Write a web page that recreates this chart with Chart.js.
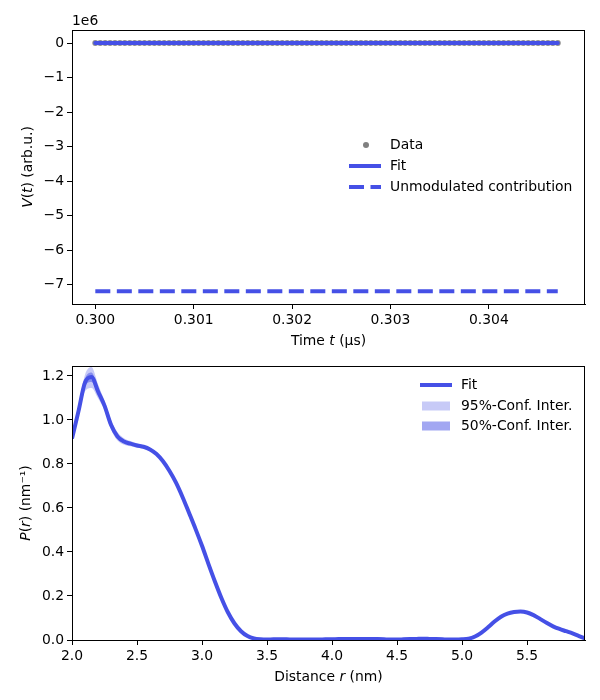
<!DOCTYPE html>
<html>
<head>
<meta charset="utf-8">
<script src="https://cdn.jsdelivr.net/npm/chart.js@4.4.1/dist/chart.umd.min.js"></script>
<style>
  body { margin: 0; background: #fff; }
  canvas { display: block; }
</style>
</head>
<body>
<canvas id="topChart" width="600" height="350"></canvas>
<canvas id="bottomChart" width="600" height="350"></canvas>
<script>
// ---- top panel: time domain ----
const timeValues = [
    0.30000, 0.30005, 0.30010, 0.30015, 0.30020, 0.30025, 0.30030, 0.30035, 0.30040, 0.30045,
    0.30050, 0.30055, 0.30060, 0.30065, 0.30070, 0.30075, 0.30080, 0.30085, 0.30090, 0.30095,
    0.30100, 0.30105, 0.30110, 0.30115, 0.30120, 0.30125, 0.30130, 0.30135, 0.30140, 0.30145,
    0.30150, 0.30155, 0.30160, 0.30165, 0.30170, 0.30175, 0.30180, 0.30185, 0.30190, 0.30195,
    0.30200, 0.30205, 0.30210, 0.30215, 0.30220, 0.30225, 0.30230, 0.30235, 0.30240, 0.30245,
    0.30250, 0.30255, 0.30260, 0.30265, 0.30270, 0.30275, 0.30280, 0.30285, 0.30290, 0.30295,
    0.30300, 0.30305, 0.30310, 0.30315, 0.30320, 0.30325, 0.30330, 0.30335, 0.30340, 0.30345,
    0.30350, 0.30355, 0.30360, 0.30365, 0.30370, 0.30375, 0.30380, 0.30385, 0.30390, 0.30395,
    0.30400, 0.30405, 0.30410, 0.30415, 0.30420, 0.30425, 0.30430, 0.30435, 0.30440, 0.30445,
    0.30450, 0.30455, 0.30460, 0.30465, 0.30470
];
const signalData = [
    0, 0, 0, 0, 0, 0, 0, 0, 0, 0,
    0, 0, 0, 0, 0, 0, 0, 0, 0, 0,
    0, 0, 0, 0, 0, 0, 0, 0, 0, 0,
    0, 0, 0, 0, 0, 0, 0, 0, 0, 0,
    0, 0, 0, 0, 0, 0, 0, 0, 0, 0,
    0, 0, 0, 0, 0, 0, 0, 0, 0, 0,
    0, 0, 0, 0, 0, 0, 0, 0, 0, 0,
    0, 0, 0, 0, 0, 0, 0, 0, 0, 0,
    0, 0, 0, 0, 0, 0, 0, 0, 0, 0,
    0, 0, 0, 0, 0
];
const signalFit = [
    0, 0, 0, 0, 0, 0, 0, 0, 0, 0,
    0, 0, 0, 0, 0, 0, 0, 0, 0, 0,
    0, 0, 0, 0, 0, 0, 0, 0, 0, 0,
    0, 0, 0, 0, 0, 0, 0, 0, 0, 0,
    0, 0, 0, 0, 0, 0, 0, 0, 0, 0,
    0, 0, 0, 0, 0, 0, 0, 0, 0, 0,
    0, 0, 0, 0, 0, 0, 0, 0, 0, 0,
    0, 0, 0, 0, 0, 0, 0, 0, 0, 0,
    0, 0, 0, 0, 0, 0, 0, 0, 0, 0,
    0, 0, 0, 0, 0
];
const unmodTime = [0.30000, 0.30470];
const unmodValues = [-7190000, -7190000];
const timeTicks = [0.300, 0.301, 0.302, 0.303, 0.304];
const signalTicks = [0, -1e6, -2e6, -3e6, -4e6, -5e6, -6e6, -7e6];

// ---- bottom panel: distance distribution ----
const distance = [
    2.00, 2.05, 2.10, 2.15, 2.20, 2.25, 2.30, 2.35, 2.40, 2.45,
    2.50, 2.55, 2.60, 2.65, 2.70, 2.75, 2.80, 2.85, 2.90, 2.95,
    3.00, 3.05, 3.10, 3.15, 3.20, 3.25, 3.30, 3.35, 3.40, 3.45,
    3.50, 3.55, 3.60, 3.65, 3.70, 3.75, 3.80, 3.85, 3.90, 3.95,
    4.00, 4.05, 4.10, 4.15, 4.20, 4.25, 4.30, 4.35, 4.40, 4.45,
    4.50, 4.55, 4.60, 4.65, 4.70, 4.75, 4.80, 4.85, 4.90, 4.95,
    5.00, 5.05, 5.10, 5.15, 5.20, 5.25, 5.30, 5.35, 5.40, 5.45,
    5.50, 5.55, 5.60, 5.65, 5.70, 5.75, 5.80, 5.85, 5.90, 5.95
];
const pFit = [
    0.915, 1.040, 1.170, 1.195, 1.130, 1.065, 0.978, 0.925, 0.902, 0.892,
    0.884, 0.878, 0.866, 0.845, 0.812, 0.768, 0.715, 0.650, 0.578, 0.505,
    0.428, 0.345, 0.265, 0.190, 0.125, 0.075, 0.040, 0.018, 0.007, 0.003,
    0.002, 0.003, 0.003, 0.003, 0.002, 0.002, 0.002, 0.002, 0.002, 0.003,
    0.003, 0.004, 0.004, 0.005, 0.005, 0.005, 0.005, 0.004, 0.003, 0.002,
    0.002, 0.003, 0.004, 0.005, 0.006, 0.005, 0.004, 0.003, 0.002, 0.002,
    0.003, 0.006, 0.016, 0.034, 0.058, 0.084, 0.106, 0.120, 0.127, 0.129,
    0.125, 0.113, 0.096, 0.078, 0.062, 0.050, 0.040, 0.030, 0.018, 0.006
];
const upper95 = [
    0.925, 1.062, 1.205, 1.240, 1.162, 1.087, 1.000, 0.944, 0.917, 0.904,
    0.894, 0.886, 0.873, 0.851, 0.818, 0.774, 0.721, 0.656, 0.584, 0.511,
    0.434, 0.351, 0.271, 0.196, 0.131, 0.081, 0.046, 0.024, 0.013, 0.009,
    0.008, 0.009, 0.009, 0.009, 0.008, 0.008, 0.008, 0.008, 0.008, 0.009,
    0.009, 0.010, 0.010, 0.011, 0.011, 0.011, 0.011, 0.010, 0.009, 0.008,
    0.008, 0.009, 0.010, 0.011, 0.012, 0.011, 0.010, 0.009, 0.008, 0.008,
    0.009, 0.012, 0.022, 0.040, 0.064, 0.090, 0.112, 0.126, 0.133, 0.135,
    0.131, 0.119, 0.102, 0.084, 0.068, 0.056, 0.046, 0.036, 0.024, 0.012
];
const lower95 = [
    0.905, 1.020, 1.130, 1.145, 1.098, 1.043, 0.956, 0.906, 0.887, 0.880,
    0.874, 0.870, 0.859, 0.839, 0.806, 0.762, 0.709, 0.644, 0.572, 0.499,
    0.422, 0.339, 0.259, 0.184, 0.119, 0.069, 0.034, 0.012, 0.001, 0.000,
    0.000, 0.000, 0.000, 0.000, 0.000, 0.000, 0.000, 0.000, 0.000, 0.000,
    0.000, 0.000, 0.000, 0.000, 0.000, 0.000, 0.000, 0.000, 0.000, 0.000,
    0.000, 0.000, 0.000, 0.000, 0.000, 0.000, 0.000, 0.000, 0.000, 0.000,
    0.000, 0.000, 0.010, 0.028, 0.052, 0.078, 0.100, 0.114, 0.121, 0.123,
    0.119, 0.107, 0.090, 0.072, 0.056, 0.044, 0.034, 0.024, 0.012, 0.000
];
const upper50 = [
    0.919, 1.050, 1.186, 1.215, 1.145, 1.075, 0.988, 0.933, 0.908, 0.897,
    0.888, 0.881, 0.869, 0.848, 0.815, 0.771, 0.718, 0.653, 0.581, 0.508,
    0.431, 0.348, 0.268, 0.193, 0.128, 0.078, 0.043, 0.021, 0.010, 0.006,
    0.005, 0.006, 0.006, 0.006, 0.005, 0.005, 0.005, 0.005, 0.005, 0.006,
    0.006, 0.007, 0.007, 0.008, 0.008, 0.008, 0.008, 0.007, 0.006, 0.005,
    0.005, 0.006, 0.007, 0.008, 0.009, 0.008, 0.007, 0.006, 0.005, 0.005,
    0.006, 0.009, 0.019, 0.037, 0.061, 0.087, 0.109, 0.123, 0.130, 0.132,
    0.128, 0.116, 0.099, 0.081, 0.065, 0.053, 0.043, 0.033, 0.021, 0.009
];
const lower50 = [
    0.911, 1.030, 1.152, 1.172, 1.115, 1.055, 0.968, 0.917, 0.896, 0.887,
    0.880, 0.875, 0.863, 0.842, 0.809, 0.765, 0.712, 0.647, 0.575, 0.502,
    0.425, 0.342, 0.262, 0.187, 0.122, 0.072, 0.037, 0.015, 0.004, 0.000,
    0.000, 0.000, 0.000, 0.000, 0.000, 0.000, 0.000, 0.000, 0.000, 0.000,
    0.000, 0.001, 0.001, 0.002, 0.002, 0.002, 0.002, 0.001, 0.000, 0.000,
    0.000, 0.000, 0.001, 0.002, 0.003, 0.002, 0.001, 0.000, 0.000, 0.000,
    0.000, 0.003, 0.013, 0.031, 0.055, 0.081, 0.103, 0.117, 0.124, 0.126,
    0.122, 0.110, 0.093, 0.075, 0.059, 0.047, 0.037, 0.027, 0.015, 0.003
];
const distanceTicks = [2.0, 2.5, 3.0, 3.5, 4.0, 4.5, 5.0, 5.5];
const pTicks = [0.0, 0.2, 0.4, 0.6, 0.8, 1.0, 1.2];

const BLUE = '#4550e6';
const FONT = 'DejaVu Sans';
const FSIZE = 13.9;

Chart.defaults.font.family = FONT;
Chart.defaults.font.size = FSIZE;
Chart.defaults.color = '#000';

function pts(xs, ys) {
    return xs.map((x, i) => ({x: x, y: ys[i]}));
}

// text made of normal and italic pieces, centred on (x, y)
function drawRich(ctx, parts, x, y, angle) {
    ctx.save();
    ctx.translate(x, y);
    ctx.rotate(angle);
    ctx.fillStyle = '#000';
    ctx.textBaseline = 'middle';
    ctx.textAlign = 'left';
    let total = 0;
    const widths = parts.map(p => {
        ctx.font = (p[1] ? 'italic ' : '') + FSIZE + 'px "' + FONT + '"';
        const w = ctx.measureText(p[0]).width;
        total += w;
        return w;
    });
    let cx = -total / 2;
    parts.forEach((p, i) => {
        ctx.font = (p[1] ? 'italic ' : '') + FSIZE + 'px "' + FONT + '"';
        ctx.fillText(p[0], cx, 0);
        cx += widths[i];
    });
    ctx.restore();
}

function fixedTicks(values) {
    return function(scale) {
        scale.ticks = values.map(v => ({value: v}));
    };
}

function axisOpts(min, max, ticks, label, size, isX) {
    return {
        type: 'linear',
        min: min,
        max: max,
        afterBuildTicks: fixedTicks(ticks),
        afterFit: function(scale) {
            if (isX) scale.height = size; else scale.width = size;
        },
        grid: {drawOnChartArea: false, drawTicks: true, tickLength: 5, color: '#000'},
        border: {display: true, color: '#000', width: 1},
        ticks: {autoSkip: false, maxRotation: 0, padding: 3, color: '#000', callback: label}
    };
}

// frame, axis titles and legend for one panel
function decorPlugin(cfg) {
    return {
        id: 'decor',
        afterDraw(chart) {
            const ctx = chart.ctx;
            const a = chart.chartArea;
            ctx.save();
            ctx.strokeStyle = '#000';
            ctx.lineWidth = 1;
            ctx.strokeRect(a.left + 0.5, a.top + 0.5, a.right - a.left - 1, a.bottom - a.top);
            ctx.restore();

            drawRich(ctx, cfg.xTitle, (a.left + a.right) / 2, cfg.xTitleY, 0);
            drawRich(ctx, cfg.yTitle, cfg.yTitleX, (a.top + a.bottom) / 2, -Math.PI / 2);

            ctx.save();
            ctx.font = FSIZE + 'px "' + FONT + '"';
            ctx.textBaseline = 'middle';
            ctx.fillStyle = '#000';
            cfg.legend.forEach(item => {
                ctx.save();
                if (item.kind === 'dot') {
                    ctx.fillStyle = item.color;
                    ctx.beginPath();
                    ctx.arc(item.x0 + 17, item.y, 3, 0, Math.PI * 2);
                    ctx.fill();
                } else if (item.kind === 'line') {
                    ctx.strokeStyle = item.color;
                    ctx.lineWidth = 4;
                    ctx.setLineDash(item.dash || []);
                    ctx.beginPath();
                    ctx.moveTo(item.x0, item.y);
                    ctx.lineTo(item.x0 + 32, item.y);
                    ctx.stroke();
                } else {
                    ctx.fillStyle = item.color;
                    ctx.fillRect(item.x0 + 2, item.y - 4.5, 28, 9);
                }
                ctx.restore();
                ctx.fillText(item.text, item.x0 + 41, item.y);
            });
            ctx.restore();

            if (cfg.offset) {
                ctx.save();
                ctx.font = FSIZE + 'px "' + FONT + '"';
                ctx.textBaseline = 'middle';
                ctx.fillStyle = '#000';
                ctx.fillText(cfg.offset, a.left, 21);
                ctx.restore();
            }
        }
    };
}

new Chart(document.getElementById('topChart'), {
    type: 'line',
    data: {
        datasets: [{
            label: 'Fit',
            data: pts(timeValues, signalFit),
            borderColor: BLUE,
            borderWidth: 4,
            borderCapStyle: 'round',
            pointRadius: 0,
            order: 0
        }, {
            label: 'Data',
            data: pts(timeValues, signalData),
            showLine: false,
            pointRadius: 3,
            pointBorderWidth: 0,
            pointBackgroundColor: 'rgba(128,128,128,0.9)',
            order: 2
        }, {
            label: 'Unmodulated contribution',
            data: pts(unmodTime, unmodValues),
            borderColor: BLUE,
            borderWidth: 4,
            borderDash: [15, 6.5],
            pointRadius: 0,
            order: 1
        }]
    },
    options: {
        responsive: false,
        animation: false,
        layout: {padding: {left: 0, right: 15, top: 30, bottom: 0}},
        plugins: {legend: {display: false}, tooltip: {enabled: false}},
        scales: {
            x: axisOpts(0.299763, 0.304977, timeTicks, v => v.toFixed(3), 46, true),
            y: axisOpts(-7560000, 380000, signalTicks,
                v => v === 0 ? '0' : '\u2212' + Math.round(Math.abs(v) / 1e6), 72, false)
        }
    },
    plugins: [decorPlugin({
        xTitle: [['Time ', false], ['t', true], [' (\u00b5s)', false]],
        xTitleY: 341,
        yTitle: [['V', true], ['(', false], ['t', true], [') (arb.u.)', false]],
        yTitleX: 28,
        offset: '1e6',
        legend: [
            {kind: 'dot', color: 'rgba(128,128,128,1)', text: 'Data', x0: 349, y: 145},
            {kind: 'line', color: BLUE, text: 'Fit', x0: 349, y: 166},
            {kind: 'line', color: BLUE, dash: [15, 6.5], text: 'Unmodulated contribution', x0: 349, y: 187}
        ]
    })]
});

new Chart(document.getElementById('bottomChart'), {
    type: 'line',
    data: {
        datasets: [{
            label: 'Fit',
            data: pts(distance, pFit),
            borderColor: BLUE,
            borderWidth: 4,
            pointRadius: 0,
            cubicInterpolationMode: 'monotone',
            order: 0
        }, {
            label: '95%-Conf. Inter.',
            data: pts(distance, upper95),
            borderWidth: 0,
            pointRadius: 0,
            cubicInterpolationMode: 'monotone',
            fill: '+1',
            backgroundColor: 'rgba(69,80,230,0.3)',
            order: 4
        }, {
            label: '95% lower',
            data: pts(distance, lower95),
            borderWidth: 0,
            pointRadius: 0,
            cubicInterpolationMode: 'monotone',
            order: 5
        }, {
            label: '50%-Conf. Inter.',
            data: pts(distance, upper50),
            borderWidth: 0,
            pointRadius: 0,
            cubicInterpolationMode: 'monotone',
            fill: '+1',
            backgroundColor: 'rgba(69,80,230,0.5)',
            order: 2
        }, {
            label: '50% lower',
            data: pts(distance, lower50),
            borderWidth: 0,
            pointRadius: 0,
            cubicInterpolationMode: 'monotone',
            order: 3
        }]
    },
    options: {
        responsive: false,
        animation: false,
        layout: {padding: {left: 0, right: 15, top: 16, bottom: 0}},
        plugins: {legend: {display: false}, tooltip: {enabled: false}},
        scales: {
            x: axisOpts(2.0, 5.946, distanceTicks, v => v.toFixed(1), 60, true),
            y: axisOpts(0, 1.245, pTicks, v => v.toFixed(1), 72, false)
        }
    },
    plugins: [decorPlugin({
        xTitle: [['Distance ', false], ['r', true], [' (nm)', false]],
        xTitleY: 327,
        yTitle: [['P', true], ['(', false], ['r', true], [') (nm\u207b\u00b9)', false]],
        yTitleX: 26,
        legend: [
            {kind: 'line', color: BLUE, text: 'Fit', x0: 420, y: 35},
            {kind: 'patch', color: 'rgba(69,80,230,0.3)', text: '95%-Conf. Inter.', x0: 420, y: 56},
            {kind: 'patch', color: 'rgba(69,80,230,0.5)', text: '50%-Conf. Inter.', x0: 420, y: 76}
        ]
    })]
});
</script>
</body>
</html>
